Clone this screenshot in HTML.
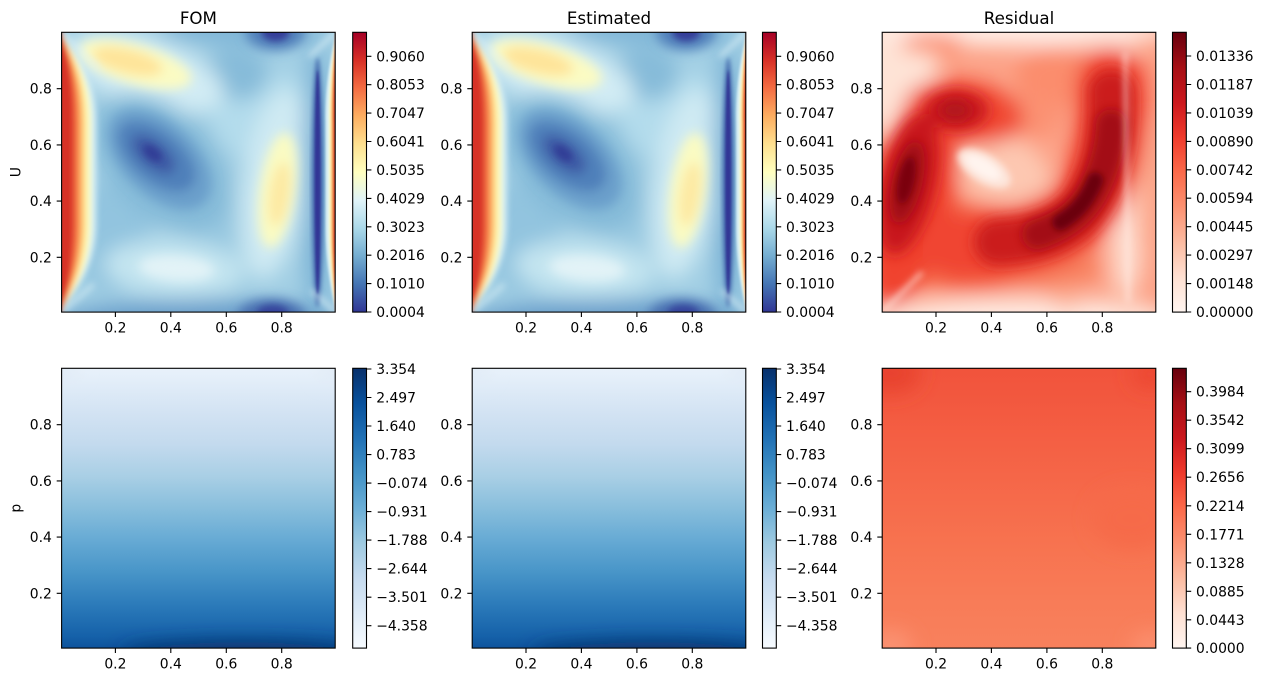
<!DOCTYPE html>
<html><head><meta charset="utf-8"><style>
html,body{margin:0;padding:0;background:#fff;}
svg{display:block;}
.t{font-family:"DejaVu Sans","Liberation Sans",sans-serif;font-size:13.9px;fill:#000;}
.ti{font-family:"DejaVu Sans","Liberation Sans",sans-serif;font-size:16.7px;fill:#000;}
.e{text-anchor:end;}
.m{text-anchor:middle;}
</style></head><body>
<svg width="1263" height="682" viewBox="0 0 1263 682" xmlns="http://www.w3.org/2000/svg" xmlns:xlink="http://www.w3.org/1999/xlink">
<defs>
<linearGradient id="cbRY" x1="0" y1="1" x2="0" y2="0">
<stop offset="0" stop-color="#313695"/><stop offset="0.1" stop-color="#4575b4"/><stop offset="0.2" stop-color="#74add1"/><stop offset="0.3" stop-color="#abd9e9"/><stop offset="0.4" stop-color="#e0f3f8"/><stop offset="0.5" stop-color="#ffffbf"/><stop offset="0.6" stop-color="#fee090"/><stop offset="0.7" stop-color="#fdae61"/><stop offset="0.8" stop-color="#f46d43"/><stop offset="0.9" stop-color="#d73027"/><stop offset="1" stop-color="#a50026"/>
</linearGradient>
<linearGradient id="cbR" x1="0" y1="1" x2="0" y2="0">
<stop offset="0" stop-color="#fff5f0"/><stop offset="0.125" stop-color="#fee0d2"/><stop offset="0.25" stop-color="#fcbba1"/><stop offset="0.375" stop-color="#fc9272"/><stop offset="0.5" stop-color="#fb6a4a"/><stop offset="0.625" stop-color="#ef3b2c"/><stop offset="0.75" stop-color="#cb181d"/><stop offset="0.875" stop-color="#a50f15"/><stop offset="1" stop-color="#67000d"/>
</linearGradient>
<linearGradient id="cbB" x1="0" y1="1" x2="0" y2="0">
<stop offset="0" stop-color="#f7fbff"/><stop offset="0.125" stop-color="#deebf7"/><stop offset="0.25" stop-color="#c6dbef"/><stop offset="0.375" stop-color="#9ecae1"/><stop offset="0.5" stop-color="#6baed6"/><stop offset="0.625" stop-color="#4292c6"/><stop offset="0.75" stop-color="#2171b5"/><stop offset="0.875" stop-color="#08519c"/><stop offset="1" stop-color="#08306b"/>
</linearGradient>
<linearGradient id="pG" x1="0" y1="0" x2="0" y2="1">
<stop offset="0" stop-color="#f1f7fd"/><stop offset="0.1" stop-color="#e3eef9"/><stop offset="0.2" stop-color="#d3e3f3"/><stop offset="0.3" stop-color="#c3daee"/><stop offset="0.4" stop-color="#a9cfe5"/><stop offset="0.5" stop-color="#88bedc"/><stop offset="0.6" stop-color="#66aad4"/><stop offset="0.7" stop-color="#4895c8"/><stop offset="0.8" stop-color="#2c7bba"/><stop offset="0.9" stop-color="#1561a9"/><stop offset="0.96" stop-color="#0a4b94"/><stop offset="1" stop-color="#083b7a"/>
</linearGradient>
<linearGradient id="rbG" x1="0" y1="0" x2="0" y2="1">
<stop offset="0" stop-color="#f0503a"/><stop offset="0.2" stop-color="#f35a40"/><stop offset="0.4" stop-color="#f56648"/><stop offset="0.6" stop-color="#f7724f"/><stop offset="0.8" stop-color="#f87c58"/><stop offset="1" stop-color="#f9835f"/>
</linearGradient>
<filter id="f1" x="-20%" y="-20%" width="140%" height="140%"><feGaussianBlur stdDeviation="1"/></filter>
<filter id="f2" x="-20%" y="-20%" width="140%" height="140%"><feGaussianBlur stdDeviation="2"/></filter>
<filter id="f25" x="-20%" y="-20%" width="140%" height="140%"><feGaussianBlur stdDeviation="2.8"/></filter>
<filter id="f3" x="-30%" y="-30%" width="160%" height="160%"><feGaussianBlur stdDeviation="3.5"/></filter>
<filter id="f5" x="-30%" y="-30%" width="160%" height="160%"><feGaussianBlur stdDeviation="5.5"/></filter>
<filter id="f7" x="-30%" y="-30%" width="160%" height="160%"><feGaussianBlur stdDeviation="7"/></filter>
<filter id="f10" x="-30%" y="-30%" width="160%" height="160%"><feGaussianBlur stdDeviation="10"/></filter>
<clipPath id="clp" clipPathUnits="userSpaceOnUse"><rect x="0" y="0" width="273.6" height="279.8"/></clipPath>

<g id="fom">
<rect x="-20" y="-20" width="314" height="320" fill="#a2cfe4"/>
<g filter="url(#f10)">
<ellipse cx="205" cy="85" rx="55" ry="45" fill="#b3dcec"/>
<ellipse cx="175" cy="42" rx="32" ry="26" fill="#86bbd9"/>
<ellipse cx="50" cy="205" rx="38" ry="55" fill="#92c4df"/>
<ellipse cx="150" cy="190" rx="30" ry="30" fill="#99c9e1"/>
<ellipse cx="84" cy="40" rx="82" ry="34" transform="rotate(18 84 40)" fill="#d2ecf4"/>
<ellipse cx="100" cy="130" rx="82" ry="52" transform="rotate(45 100 130)" fill="#84bad8"/>
<ellipse cx="213" cy="152" rx="32" ry="95" transform="rotate(8 213 152)" fill="#cfeaf3"/>
<ellipse cx="112" cy="236" rx="70" ry="28" transform="rotate(4 112 236)" fill="#c4e5f0"/>
<ellipse cx="180" cy="-4" rx="85" ry="16" fill="#7fb5d7"/>
<ellipse cx="140" cy="290" rx="145" ry="22" fill="#6a9fcb"/>
<ellipse cx="255" cy="150" rx="14" ry="140" fill="#78b0d4"/>
</g>
<g filter="url(#f5)">
<ellipse cx="74" cy="32" rx="58" ry="20" transform="rotate(16 74 32)" fill="#fbfbc3"/>
<ellipse cx="66" cy="29" rx="36" ry="12" transform="rotate(14 66 29)" fill="#fee49a"/>
<ellipse cx="98" cy="127" rx="62" ry="36" transform="rotate(43 98 127)" fill="#6a9fcb"/>
<ellipse cx="95" cy="124" rx="46" ry="25" transform="rotate(40 95 124)" fill="#4f80ba"/>
<ellipse cx="92" cy="122" rx="26" ry="13" transform="rotate(40 92 122)" fill="#3d5aa5"/>
<ellipse cx="216" cy="158" rx="18" ry="58" transform="rotate(8 216 158)" fill="#fafbc2"/>
<ellipse cx="218" cy="162" rx="10" ry="32" transform="rotate(8 218 162)" fill="#fde9a3"/>
<ellipse cx="115" cy="236" rx="38" ry="13" transform="rotate(4 115 236)" fill="#e2f3f7"/>
<ellipse cx="214" cy="0" rx="30" ry="18" fill="#5282bb"/>
<ellipse cx="210" cy="284" rx="34" ry="17" fill="#4a6fb0"/>
</g>
<g filter="url(#f3)">
<ellipse cx="91" cy="121" rx="11" ry="6" transform="rotate(40 91 121)" fill="#333c96"/>
<ellipse cx="214" cy="0" rx="14" ry="9" fill="#343e98"/>
<ellipse cx="211" cy="281" rx="16" ry="8" fill="#36439b"/>
</g>
<g filter="url(#f2)">
<ellipse cx="256" cy="150" rx="6" ry="125" fill="#4a6fb0"/>
</g>
<g filter="url(#f25)">
<path d="M-5,-5 L0,0 C10,20 35,40 35,90 L35,190 C35,240 10,260 0,280 L-5,285 Z" fill="#d2ecf4"/>
<path d="M-5,-5 L0,0 C9,20 29.5,40 29.5,90 L29.5,190 C29.5,240 9,260 0,280 L-5,285 Z" fill="#ffffbf"/>
<path d="M-5,-5 L0,0 C8,20 25,40 25,90 L25,190 C25,240 8,260 0,280 L-5,285 Z" fill="#fee090"/>
<path d="M-5,-5 L0,0 C6,20 21,40 21,90 L21,190 C21,240 6,260 0,280 L-5,285 Z" fill="#fdae61"/>
<path d="M-5,-5 L0,0 C5,20 17,40 17,90 L17,190 C17,240 5,260 0,280 L-5,285 Z" fill="#f46d43"/>
<path d="M-5,-5 L0,0 C4,20 12,40 12,90 L12,190 C12,240 4,260 0,280 L-5,285 Z" fill="#d73027"/>
</g>
<g filter="url(#f3)">
<line x1="0" y1="0" x2="38" y2="36" stroke="#e0f3f8" stroke-width="2.5"/>
<line x1="0" y1="280" x2="32" y2="252" stroke="#e0f3f8" stroke-width="2.5"/>
<line x1="274" y1="0" x2="248" y2="24" stroke="#e0f3f8" stroke-width="3"/>
<line x1="274" y1="280" x2="250" y2="258" stroke="#e0f3f8" stroke-width="3"/>
</g>
<g filter="url(#f1)">
<ellipse cx="256" cy="150" rx="3" ry="112" fill="#313695"/>
<path d="M279,0 L274,0 C271,20 264,40 264,90 L264,190 C264,240 271,260 274,280 L279,280 Z" fill="#d9eff5"/>
<path d="M279,0 L274,0 C272,20 267.5,40 267.5,90 L267.5,190 C267.5,240 272,260 274,280 L279,280 Z" fill="#ffffbf"/>
<path d="M279,0 L274,0 C273,20 269.5,40 269.5,90 L269.5,190 C269.5,240 273,260 274,280 L279,280 Z" fill="#fdae61"/>
<path d="M279,0 L274,0 C273.5,20 271.5,40 271.5,90 L271.5,190 C271.5,240 273.5,260 274,280 L279,280 Z" fill="#d73027"/>
</g>
</g>

<g id="res">
<rect x="-20" y="-20" width="314" height="320" fill="#fca287"/>
<g filter="url(#f10)">
<ellipse cx="15" cy="40" rx="40" ry="70" fill="#fee3d6"/>
<ellipse cx="140" cy="-2" rx="150" ry="16" fill="#fff0e9"/>
<ellipse cx="140" cy="286" rx="150" ry="20" fill="#feeae1"/>
<ellipse cx="244" cy="150" rx="16" ry="140" fill="#fee0d3"/>
<ellipse cx="264" cy="165" rx="10" ry="80" fill="#fcaa8e"/>
<ellipse cx="185" cy="266" rx="20" ry="10" fill="#fcae93"/>
<ellipse cx="238" cy="266" rx="14" ry="10" fill="#fcb79f"/>
<ellipse cx="50" cy="11" rx="32" ry="10" fill="#fb8e6e"/>
<ellipse cx="175" cy="45" rx="42" ry="30" fill="#fb8d6d"/>
<ellipse cx="140" cy="85" rx="40" ry="22" fill="#fb9273"/>
<ellipse cx="122" cy="140" rx="52" ry="36" transform="rotate(30 122 140)" fill="#fdc7b1"/>
<ellipse cx="90" cy="215" rx="95" ry="45" fill="#f7704f"/>
<ellipse cx="160" cy="236" rx="60" ry="20" fill="#f8805f"/>
<ellipse cx="30" cy="165" rx="42" ry="112" transform="rotate(13 30 165)" fill="#f0432f"/>
<ellipse cx="82" cy="80" rx="60" ry="32" transform="rotate(8 82 80)" fill="#f04630"/>
<path d="M 75,214 C 140,214 190,198 208,165 C 225,135 231,100 229,52" stroke="#f04530" stroke-width="70" fill="none" stroke-linecap="round"/>
</g>
<g filter="url(#f7)">
<ellipse cx="26" cy="152" rx="27" ry="72" transform="rotate(13 26 152)" fill="#c8171c"/>
<ellipse cx="74" cy="78" rx="32" ry="20" fill="#c8171c"/>
<path d="M 115,210 C 160,208 192,194 208,165 C 225,135 231,100 229,60" stroke="#cb1b1e" stroke-width="46" fill="none" stroke-linecap="round"/>
</g>
<g filter="url(#f5)">
<ellipse cx="25" cy="150" rx="15" ry="42" transform="rotate(13 25 150)" fill="#a00d14"/>
<ellipse cx="73" cy="78" rx="15" ry="10" fill="#b3121a"/>
<path d="M 155,202 C 185,192 200,178 210,160 C 222,138 228,115 229,92" stroke="#a30f15" stroke-width="30" fill="none" stroke-linecap="round"/>
</g>
<g filter="url(#f3)">
<ellipse cx="24" cy="148" rx="8" ry="24" transform="rotate(12 24 148)" fill="#7a0510"/>
<path d="M 178,190 C 195,180 205,168 213,148" stroke="#6a010e" stroke-width="16" fill="none" stroke-linecap="round"/>
<ellipse cx="102" cy="136" rx="30" ry="14" transform="rotate(32 102 136)" fill="#fde6dc"/>
<ellipse cx="101" cy="135" rx="20" ry="8" transform="rotate(32 101 135)" fill="#fff4ef"/>
<line x1="0" y1="280" x2="40" y2="240" stroke="#fee8df" stroke-width="3"/>
<line x1="243" y1="20" x2="246" y2="270" stroke="#fff0ea" stroke-width="2.5"/>
</g>
</g>

<g id="pf">
<rect x="-20" y="-20" width="314" height="320" fill="url(#pG)"/>
<g filter="url(#f10)">
<ellipse cx="0" cy="0" rx="16" ry="12" fill="#e0eaf5"/>
<ellipse cx="274" cy="0" rx="16" ry="12" fill="#e0eaf5"/>
<ellipse cx="180" cy="286" rx="120" ry="12" fill="#08306b"/>
</g>
</g>

<g id="rb">
<rect x="-20" y="-20" width="314" height="320" fill="url(#rbG)"/>
<g filter="url(#f10)">
<ellipse cx="8" cy="5" rx="30" ry="20" fill="#e8432f"/>
<ellipse cx="268" cy="6" rx="18" ry="14" fill="#ec4731"/>
<ellipse cx="8" cy="278" rx="22" ry="16" fill="#fb9373"/>
<ellipse cx="268" cy="278" rx="18" ry="14" fill="#fb9070"/>
<ellipse cx="250" cy="150" rx="40" ry="30" fill="#f66a4a"/>
</g>
</g>
</defs>

<!-- panels -->
<g transform="translate(61.6,32.3)"><g clip-path="url(#clp)"><use xlink:href="#fom"/></g><rect x="0" y="0" width="273.6" height="279.8" fill="none" stroke="#000" stroke-width="1.1"/></g>
<g transform="translate(472.2,32.3)"><g clip-path="url(#clp)"><use xlink:href="#fom"/></g><rect x="0" y="0" width="273.6" height="279.8" fill="none" stroke="#000" stroke-width="1.1"/></g>
<g transform="translate(882.2,32.3)"><g clip-path="url(#clp)"><use xlink:href="#res"/></g><rect x="0" y="0" width="273.6" height="279.8" fill="none" stroke="#000" stroke-width="1.1"/></g>
<g transform="translate(61.6,368.3)"><g clip-path="url(#clp)"><use xlink:href="#pf"/></g><rect x="0" y="0" width="273.6" height="279.8" fill="none" stroke="#000" stroke-width="1.1"/></g>
<g transform="translate(472.2,368.3)"><g clip-path="url(#clp)"><use xlink:href="#pf"/></g><rect x="0" y="0" width="273.6" height="279.8" fill="none" stroke="#000" stroke-width="1.1"/></g>
<g transform="translate(882.2,368.3)"><g clip-path="url(#clp)"><use xlink:href="#rb"/></g><rect x="0" y="0" width="273.6" height="279.8" fill="none" stroke="#000" stroke-width="1.1"/></g>

<!-- colorbars -->
<rect x="352.7" y="32.3" width="13.8" height="279.8" fill="url(#cbRY)" stroke="#000" stroke-width="1.1"/>
<rect x="762.5" y="32.3" width="13.8" height="279.8" fill="url(#cbRY)" stroke="#000" stroke-width="1.1"/>
<rect x="1172.5" y="32.3" width="13.8" height="279.8" fill="url(#cbR)" stroke="#000" stroke-width="1.1"/>
<rect x="352.7" y="368.3" width="13.8" height="279.8" fill="url(#cbB)" stroke="#000" stroke-width="1.1"/>
<rect x="762.5" y="368.3" width="13.8" height="279.8" fill="url(#cbB)" stroke="#000" stroke-width="1.1"/>
<rect x="1172.5" y="368.3" width="13.8" height="279.8" fill="url(#cbR)" stroke="#000" stroke-width="1.1"/>

<!-- tick marks -->
<g stroke="#000" stroke-width="1.1">
<path d="M115.4,312.1v4.9M170.8,312.1v4.9M226.3,312.1v4.9M281.7,312.1v4.9M526,312.1v4.9M581.4,312.1v4.9M636.9,312.1v4.9M692.3,312.1v4.9M936,312.1v4.9M991.4,312.1v4.9M1046.9,312.1v4.9M1102.3,312.1v4.9"/>
<path d="M115.4,648.1v4.9M170.8,648.1v4.9M226.3,648.1v4.9M281.7,648.1v4.9M526,648.1v4.9M581.4,648.1v4.9M636.9,648.1v4.9M692.3,648.1v4.9M936,648.1v4.9M991.4,648.1v4.9M1046.9,648.1v4.9M1102.3,648.1v4.9"/>
<path d="M61.6,88.7h-4.9M61.6,144.9h-4.9M61.6,201.1h-4.9M61.6,257.3h-4.9M472.2,88.7h-4.9M472.2,144.9h-4.9M472.2,201.1h-4.9M472.2,257.3h-4.9M882.2,88.7h-4.9M882.2,144.9h-4.9M882.2,201.1h-4.9M882.2,257.3h-4.9"/>
<path d="M61.6,424.7h-4.9M61.6,480.9h-4.9M61.6,537.1h-4.9M61.6,593.3h-4.9M472.2,424.7h-4.9M472.2,480.9h-4.9M472.2,537.1h-4.9M472.2,593.3h-4.9M882.2,424.7h-4.9M882.2,480.9h-4.9M882.2,537.1h-4.9M882.2,593.3h-4.9"/>
<path d="M366.5,312h4.9M366.5,283.6h4.9M366.5,255.2h4.9M366.5,226.8h4.9M366.5,198.4h4.9M366.5,169.9h4.9M366.5,141.5h4.9M366.5,113.1h4.9M366.5,84.7h4.9M366.5,56.3h4.9"/>
<path d="M776.3,312h4.9M776.3,283.6h4.9M776.3,255.2h4.9M776.3,226.8h4.9M776.3,198.4h4.9M776.3,169.9h4.9M776.3,141.5h4.9M776.3,113.1h4.9M776.3,84.7h4.9M776.3,56.3h4.9"/>
<path d="M1186.3,312h4.9M1186.3,283.6h4.9M1186.3,255.1h4.9M1186.3,226.7h4.9M1186.3,198.2h4.9M1186.3,169.8h4.9M1186.3,141.4h4.9M1186.3,112.9h4.9M1186.3,84.5h4.9M1186.3,56h4.9"/>
<path d="M366.5,369h4.9M366.5,397.5h4.9M366.5,426h4.9M366.5,454.6h4.9M366.5,483.1h4.9M366.5,511.6h4.9M366.5,540.1h4.9M366.5,568.6h4.9M366.5,597.2h4.9M366.5,625.7h4.9"/>
<path d="M776.3,369h4.9M776.3,397.5h4.9M776.3,426h4.9M776.3,454.6h4.9M776.3,483.1h4.9M776.3,511.6h4.9M776.3,540.1h4.9M776.3,568.6h4.9M776.3,597.2h4.9M776.3,625.7h4.9"/>
<path d="M1186.3,648.1h4.9M1186.3,619.8h4.9M1186.3,591.3h4.9M1186.3,562.8h4.9M1186.3,534.3h4.9M1186.3,505.8h4.9M1186.3,477.2h4.9M1186.3,448.7h4.9M1186.3,420.2h4.9M1186.3,391.7h4.9"/>
</g>

<!-- titles -->
<text class="ti m" x="198.4" y="24">FOM</text>
<text class="ti m" x="609" y="24">Estimated</text>
<text class="ti m" x="1019" y="24">Residual</text>
<text class="t m" transform="translate(20.7,172.2) rotate(-90)">U</text>
<text class="t m" transform="translate(20.7,508.2) rotate(-90)">p</text>

<!-- x tick labels -->
<g class="t m">
<text x="115.4" y="332.4">0.2</text><text x="170.8" y="332.4">0.4</text><text x="226.3" y="332.4">0.6</text><text x="281.7" y="332.4">0.8</text>
<text x="526" y="332.4">0.2</text><text x="581.4" y="332.4">0.4</text><text x="636.9" y="332.4">0.6</text><text x="692.3" y="332.4">0.8</text>
<text x="936" y="332.4">0.2</text><text x="991.4" y="332.4">0.4</text><text x="1046.9" y="332.4">0.6</text><text x="1102.3" y="332.4">0.8</text>
<text x="115.4" y="668.6">0.2</text><text x="170.8" y="668.6">0.4</text><text x="226.3" y="668.6">0.6</text><text x="281.7" y="668.6">0.8</text>
<text x="526" y="668.6">0.2</text><text x="581.4" y="668.6">0.4</text><text x="636.9" y="668.6">0.6</text><text x="692.3" y="668.6">0.8</text>
<text x="936" y="668.6">0.2</text><text x="991.4" y="668.6">0.4</text><text x="1046.9" y="668.6">0.6</text><text x="1102.3" y="668.6">0.8</text>
</g>
<!-- y tick labels -->
<g class="t e">
<text x="51.9" y="93.7">0.8</text><text x="51.9" y="149.9">0.6</text><text x="51.9" y="206.1">0.4</text><text x="51.9" y="262.3">0.2</text>
<text x="462.5" y="93.7">0.8</text><text x="462.5" y="149.9">0.6</text><text x="462.5" y="206.1">0.4</text><text x="462.5" y="262.3">0.2</text>
<text x="872.5" y="93.7">0.8</text><text x="872.5" y="149.9">0.6</text><text x="872.5" y="206.1">0.4</text><text x="872.5" y="262.3">0.2</text>
<text x="51.9" y="429.7">0.8</text><text x="51.9" y="485.9">0.6</text><text x="51.9" y="542.1">0.4</text><text x="51.9" y="598.3">0.2</text>
<text x="462.5" y="429.7">0.8</text><text x="462.5" y="485.9">0.6</text><text x="462.5" y="542.1">0.4</text><text x="462.5" y="598.3">0.2</text>
<text x="872.5" y="429.7">0.8</text><text x="872.5" y="485.9">0.6</text><text x="872.5" y="542.1">0.4</text><text x="872.5" y="598.3">0.2</text>
</g>
<!-- colorbar labels -->
<g class="t">
<text x="376.2" y="317">0.0004</text><text x="376.2" y="288.6">0.1010</text><text x="376.2" y="260.2">0.2016</text><text x="376.2" y="231.8">0.3023</text><text x="376.2" y="203.4">0.4029</text><text x="376.2" y="174.9">0.5035</text><text x="376.2" y="146.5">0.6041</text><text x="376.2" y="118.1">0.7047</text><text x="376.2" y="89.7">0.8053</text><text x="376.2" y="61.3">0.9060</text>
<text x="786" y="317">0.0004</text><text x="786" y="288.6">0.1010</text><text x="786" y="260.2">0.2016</text><text x="786" y="231.8">0.3023</text><text x="786" y="203.4">0.4029</text><text x="786" y="174.9">0.5035</text><text x="786" y="146.5">0.6041</text><text x="786" y="118.1">0.7047</text><text x="786" y="89.7">0.8053</text><text x="786" y="61.3">0.9060</text>
<text x="1196" y="317">0.00000</text><text x="1196" y="288.6">0.00148</text><text x="1196" y="260.1">0.00297</text><text x="1196" y="231.7">0.00445</text><text x="1196" y="203.2">0.00594</text><text x="1196" y="174.8">0.00742</text><text x="1196" y="146.4">0.00890</text><text x="1196" y="117.9">0.01039</text><text x="1196" y="89.5">0.01187</text><text x="1196" y="61">0.01336</text>
<text x="376.2" y="374">3.354</text><text x="376.2" y="402.5">2.497</text><text x="376.2" y="431">1.640</text><text x="376.2" y="459.6">0.783</text><text x="376.2" y="488.1">−0.074</text><text x="376.2" y="516.6">−0.931</text><text x="376.2" y="545.1">−1.788</text><text x="376.2" y="573.6">−2.644</text><text x="376.2" y="602.2">−3.501</text><text x="376.2" y="630.7">−4.358</text>
<text x="786" y="374">3.354</text><text x="786" y="402.5">2.497</text><text x="786" y="431">1.640</text><text x="786" y="459.6">0.783</text><text x="786" y="488.1">−0.074</text><text x="786" y="516.6">−0.931</text><text x="786" y="545.1">−1.788</text><text x="786" y="573.6">−2.644</text><text x="786" y="602.2">−3.501</text><text x="786" y="630.7">−4.358</text>
<text x="1196" y="653.1">0.0000</text><text x="1196" y="624.8">0.0443</text><text x="1196" y="596.3">0.0885</text><text x="1196" y="567.8">0.1328</text><text x="1196" y="539.3">0.1771</text><text x="1196" y="510.8">0.2214</text><text x="1196" y="482.2">0.2656</text><text x="1196" y="453.7">0.3099</text><text x="1196" y="425.2">0.3542</text><text x="1196" y="396.7">0.3984</text>
</g>
</svg>
</body></html>
